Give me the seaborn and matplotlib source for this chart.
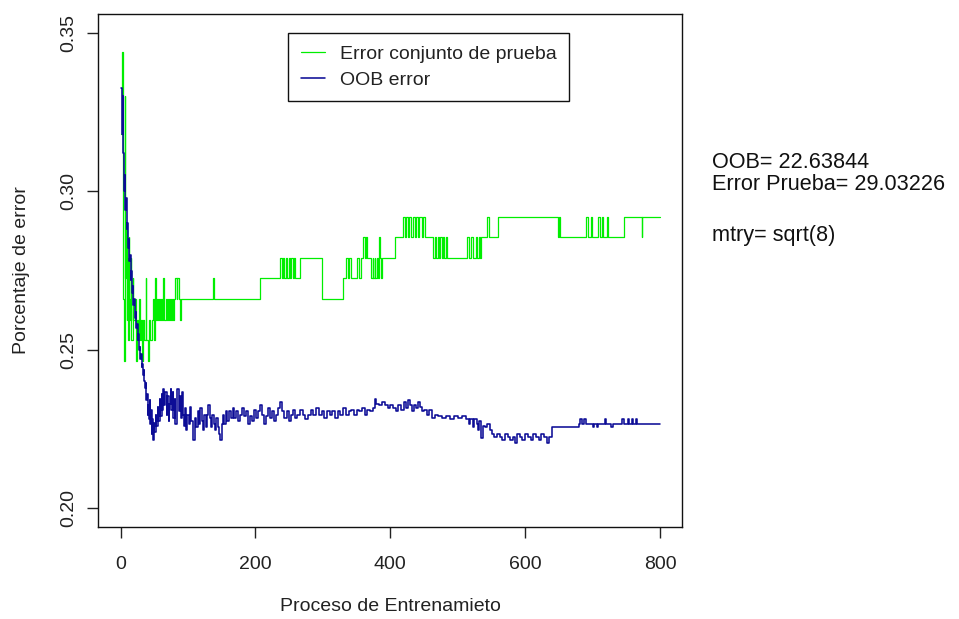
import numpy as np
import pandas as pd
import matplotlib
matplotlib.use("Agg")
import matplotlib.pyplot as plt
import seaborn as sns

# test-set error (green): (iteration, error) at each change of value
test_steps = [
    (1, 0.318), (2, 0.344), (3, 0.300), (4, 0.266), (5, 0.2464), (6, 0.330), (7, 0.2725), (8, 0.290),
    (9, 0.2594), (10, 0.279), (11, 0.2529), (12, 0.2855), (13, 0.266), (14, 0.2594), (15, 0.279),
    (16, 0.2529), (18, 0.2725), (19, 0.2594), (21, 0.266), (22, 0.2464), (24, 0.2594), (25, 0.2529),
    (27, 0.266), (28, 0.2529), (30, 0.2594), (31, 0.2464), (33, 0.2594), (35, 0.2529), (37, 0.2725),
    (38, 0.2529), (40, 0.2464), (42, 0.2594), (44, 0.2529), (46, 0.2594), (48, 0.266), (49, 0.2529),
    (51, 0.2725), (52, 0.2594), (54, 0.266), (55, 0.2594), (57, 0.266), (58, 0.2594), (60, 0.266),
    (61, 0.2594), (63, 0.2725), (64, 0.266), (65, 0.2594), (67, 0.266), (68, 0.2594), (70, 0.266),
    (71, 0.2594), (73, 0.266), (74, 0.2594), (76, 0.266), (77, 0.2594), (79, 0.266), (81, 0.2725),
    (83, 0.266), (84, 0.2725), (86, 0.266), (88, 0.2594), (90, 0.266), (137, 0.2725), (139, 0.266),
    (207, 0.2725), (237, 0.279), (239, 0.2725), (241, 0.279), (243, 0.2725), (245, 0.279), (247, 0.2725),
    (249, 0.279), (251, 0.2725), (253, 0.279), (255, 0.2725), (257, 0.279), (259, 0.2725), (266, 0.279),
    (299, 0.266), (330, 0.2725), (335, 0.279), (337, 0.2725), (339, 0.279), (341, 0.2725), (351, 0.279),
    (354, 0.2725), (356, 0.279), (360, 0.2855), (362, 0.279), (364, 0.2855), (366, 0.279), (372, 0.2725),
    (374, 0.279), (375, 0.2725), (377, 0.279), (378, 0.2725), (380, 0.279), (381, 0.2725), (383, 0.2855),
    (385, 0.279), (386, 0.2725), (388, 0.279), (407, 0.2855), (419, 0.292), (422, 0.2855), (424, 0.292),
    (426, 0.2855), (428, 0.292), (431, 0.2855), (433, 0.292), (436, 0.2855), (438, 0.292), (441, 0.2855),
    (443, 0.292), (447, 0.2855), (449, 0.292), (452, 0.2855), (464, 0.279), (466, 0.2855), (468, 0.279),
    (470, 0.2855), (472, 0.279), (474, 0.2855), (476, 0.279), (478, 0.2855), (480, 0.279), (482, 0.2855),
    (484, 0.279), (514, 0.2855), (516, 0.279), (520, 0.2855), (522, 0.279), (527, 0.2855), (529, 0.279),
    (531, 0.2855), (533, 0.279), (535, 0.2855), (543, 0.292), (546, 0.2855), (560, 0.292), (649, 0.2855),
    (650, 0.292), (652, 0.2855), (691, 0.292), (694, 0.2855), (697, 0.292), (699, 0.2855), (708, 0.292),
    (711, 0.2855), (714, 0.292), (716, 0.2855), (721, 0.292), (723, 0.2855), (746, 0.292), (773, 0.2855),
    (774, 0.292), (800, 0.292),
]

# OOB error (blue)
oob_steps = [
    (1, 0.3326), (2, 0.318), (3, 0.330), (4, 0.312), (5, 0.300), (6, 0.305), (7, 0.294), (8, 0.298),
    (9, 0.288), (10, 0.290), (11, 0.282), (12, 0.285), (13, 0.278), (14, 0.280), (15, 0.272), (16, 0.275),
    (17, 0.268), (18, 0.270), (19, 0.264), (20, 0.266), (21, 0.260), (22, 0.262), (23, 0.257), (24, 0.258),
    (25, 0.253), (26, 0.255), (27, 0.250), (28, 0.251), (29, 0.247), (30, 0.2485), (31, 0.2445),
    (32, 0.2455), (33, 0.242), (34, 0.2435), (35, 0.240), (36, 0.238), (37, 0.2395), (38, 0.234),
    (39, 0.236), (40, 0.2295), (41, 0.2325), (42, 0.228), (43, 0.234), (44, 0.2265), (45, 0.231),
    (46, 0.2235), (47, 0.228), (48, 0.2215), (49, 0.227), (50, 0.224), (52, 0.2295), (53, 0.226),
    (55, 0.232), (56, 0.2275), (58, 0.2345), (59, 0.229), (61, 0.236), (62, 0.231), (63, 0.2375),
    (65, 0.2325), (66, 0.2365), (68, 0.2295), (69, 0.2355), (71, 0.2275), (72, 0.233), (74, 0.2375),
    (75, 0.231), (77, 0.2365), (78, 0.2285), (80, 0.2345), (81, 0.2265), (83, 0.232), (84, 0.2375),
    (86, 0.2305), (88, 0.2355), (89, 0.2285), (91, 0.2365), (92, 0.2295), (94, 0.226), (96, 0.2315),
    (97, 0.2245), (99, 0.2295), (101, 0.2265), (103, 0.232), (105, 0.2275), (107, 0.2235), (108, 0.2215),
    (110, 0.2285), (112, 0.2255), (114, 0.2305), (116, 0.2265), (118, 0.2315), (120, 0.2275),
    (122, 0.2245), (124, 0.2295), (126, 0.2255), (128, 0.2295), (130, 0.2325), (132, 0.2285),
    (134, 0.2255), (136, 0.2295), (138, 0.2265), (140, 0.2245), (142, 0.2285), (144, 0.2255),
    (146, 0.2235), (148, 0.2215), (150, 0.2265), (152, 0.2295), (154, 0.2265), (156, 0.2305),
    (158, 0.2275), (160, 0.2305), (163, 0.2285), (166, 0.2315), (168, 0.2285), (171, 0.2305),
    (174, 0.2275), (177, 0.2295), (180, 0.2315), (183, 0.229), (186, 0.2305), (189, 0.2265),
    (192, 0.229), (195, 0.2275), (198, 0.231), (201, 0.2285), (204, 0.2305), (207, 0.2325),
    (210, 0.2295), (213, 0.2265), (216, 0.229), (219, 0.2315), (222, 0.2285), (225, 0.2305),
    (228, 0.2275), (231, 0.2295), (234, 0.2315), (237, 0.2335), (240, 0.2305), (243, 0.2285),
    (246, 0.2305), (249, 0.2275), (252, 0.2295), (255, 0.231), (258, 0.2285), (262, 0.2295),
    (266, 0.231), (270, 0.2295), (274, 0.228), (278, 0.2295), (282, 0.231), (286, 0.2295),
    (290, 0.2315), (294, 0.2295), (298, 0.2305), (302, 0.2285), (306, 0.2305), (310, 0.2295),
    (314, 0.2305), (318, 0.2285), (322, 0.2305), (326, 0.2295), (330, 0.2315), (334, 0.2295),
    (338, 0.2305), (342, 0.231), (346, 0.2295), (350, 0.231), (354, 0.2305), (358, 0.2315),
    (362, 0.2295), (366, 0.231), (370, 0.2305), (374, 0.2315), (377, 0.2345), (379, 0.233),
    (383, 0.2325), (388, 0.2335), (392, 0.2325), (396, 0.2315), (400, 0.2325), (404, 0.2315),
    (408, 0.2305), (412, 0.2325), (416, 0.231), (420, 0.2335), (423, 0.2315), (426, 0.234),
    (429, 0.2325), (432, 0.2305), (435, 0.2325), (438, 0.2315), (441, 0.2335), (444, 0.232),
    (447, 0.2305), (450, 0.231), (454, 0.2295), (458, 0.231), (462, 0.2285), (466, 0.2295),
    (470, 0.229), (476, 0.2285), (482, 0.229), (488, 0.228), (494, 0.229), (500, 0.2285),
    (506, 0.229), (512, 0.228), (516, 0.2265), (518, 0.228), (522, 0.2255), (524, 0.228),
    (528, 0.2265), (530, 0.2245), (532, 0.2275), (535, 0.222), (537, 0.226), (540, 0.2255),
    (544, 0.2265), (548, 0.2245), (551, 0.2235), (554, 0.2225), (558, 0.2235), (562, 0.2225),
    (566, 0.2215), (570, 0.2235), (574, 0.2225), (578, 0.2215), (582, 0.2225), (585, 0.2205),
    (588, 0.2235), (592, 0.2225), (596, 0.2215), (600, 0.2235), (604, 0.2225), (608, 0.2215),
    (612, 0.2235), (616, 0.2225), (620, 0.2215), (624, 0.2235), (628, 0.2225), (632, 0.2205),
    (635, 0.2225), (640, 0.2255), (680, 0.2265), (682, 0.228), (684, 0.2265), (688, 0.228),
    (690, 0.2265), (700, 0.2255), (702, 0.2265), (706, 0.2255), (708, 0.2265), (718, 0.228),
    (720, 0.2265), (728, 0.2255), (730, 0.2265), (744, 0.228), (746, 0.2265), (752, 0.228),
    (754, 0.2265), (758, 0.228), (760, 0.2265), (764, 0.228), (766, 0.2265), (800, 0.2265),
]

legend_labels = ["Error conjunto de prueba", "OOB error"]
x_ticks = [0, 200, 400, 600, 800]
y_ticks = [0.20, 0.25, 0.30, 0.35]
side_text = ["OOB= 22.63844", "Error Prueba= 29.03226", "mtry= sqrt(8)"]

test_df = pd.DataFrame(test_steps, columns=["iter", "err"])
oob_df = pd.DataFrame(oob_steps, columns=["iter", "err"])

sns.set_style("ticks")
plt.rcParams["font.family"] = ["Liberation Sans", "DejaVu Sans"]
plt.rcParams["font.size"] = 14

fig = plt.figure(figsize=(9.59, 6.19), dpi=100)
ax = fig.add_axes([0.1025, 0.1486, 0.6083, 0.8288])

sns.lineplot(data=test_df, x="iter", y="err", ax=ax, color="#00ee00", lw=0.9,
             drawstyle="steps-post", estimator=None, sort=False, label=legend_labels[0])
sns.lineplot(data=oob_df, x="iter", y="err", ax=ax, color="#0c0c96", lw=1.15,
             drawstyle="steps-post", estimator=None, sort=False, label=legend_labels[1])

ax.set_xlim(-33.2, 832.2)
ax.set_ylim(0.194, 0.356)
ax.set_xticks(x_ticks)
ax.set_xticklabels([str(t) for t in x_ticks])
ax.set_yticks(y_ticks)
ax.set_yticklabels([f"{t:.2f}" for t in y_ticks])

for s in ax.spines.values():
    s.set_visible(True)
    s.set_color("#111111")
    s.set_linewidth(1.0)

ax.tick_params(axis="both", direction="out", length=8, width=1.0, color="#222222",
               labelsize=14, labelcolor="#222222")
ax.tick_params(axis="x", pad=13)
ax.tick_params(axis="y", pad=7, labelrotation=90)
for lab in ax.get_yticklabels():
    lab.set_verticalalignment("center")

ax.set_xlabel("Proceso de Entrenamieto", fontsize=14, color="#222222")
ax.set_ylabel("Porcentaje de error", fontsize=14, color="#222222")
ax.xaxis.set_label_coords(0.5, -0.155)
ax.yaxis.set_label_coords(-0.131, 0.5)
ax.xaxis.label.set_verticalalignment("center")
ax.yaxis.label.set_verticalalignment("center")

leg = ax.legend(loc="upper left", bbox_to_anchor=(0.325, 0.963), fontsize=14,
                frameon=True, fancybox=False, edgecolor="#111111", framealpha=1,
                handlelength=1.25, handletextpad=0.77, labelspacing=0.4,
                borderpad=0.65, borderaxespad=0)
leg.get_frame().set_linewidth(1.0)
for t in leg.get_texts():
    t.set_color("#222222")

fig.text(712 / 959, 1 - 168 / 619, side_text[0], fontsize=15.6, va="baseline", color="#111111")
fig.text(712 / 959, 1 - 190 / 619, side_text[1], fontsize=15.6, va="baseline", color="#111111")
fig.text(712 / 959, 1 - 241 / 619, side_text[2], fontsize=15.6, va="baseline", color="#111111")

fig.savefig("out.png", dpi=100)
